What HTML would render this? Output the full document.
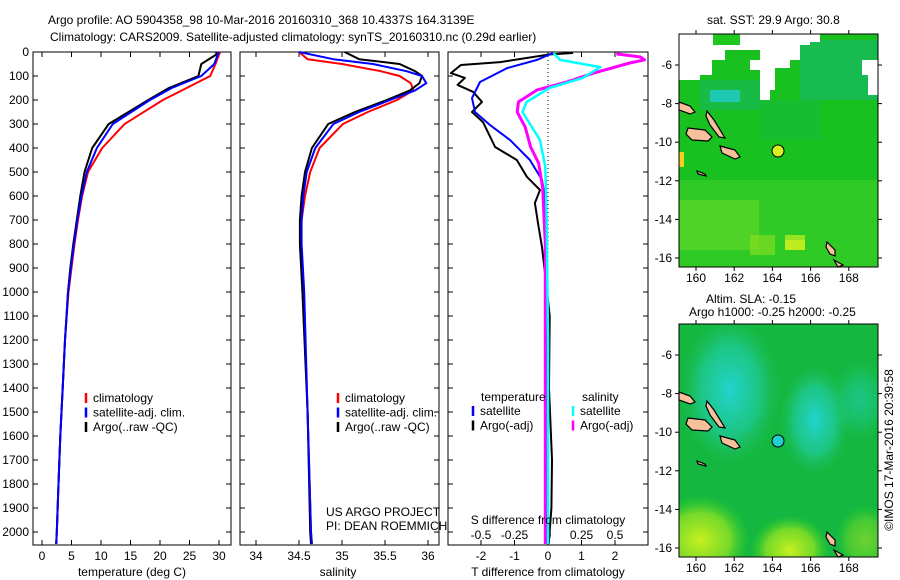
<!DOCTYPE html>
<html><head><meta charset="utf-8"><style>
body{margin:0;background:#fff;}
svg{display:block;font-family:"Liberation Sans",sans-serif;font-size:12px;}
</style></head><body>
<svg id="c" width="900" height="580" viewBox="0 0 900 580">
<defs>
<radialGradient id="cy1" cx="0.5" cy="0.5" r="0.5"><stop offset="0" stop-color="#22d4d0"/><stop offset="0.6" stop-color="#20cca0" stop-opacity="0.7"/><stop offset="1" stop-color="#20c060" stop-opacity="0"/></radialGradient>
<radialGradient id="yl1" cx="0.5" cy="0.5" r="0.5"><stop offset="0" stop-color="#c8f020"/><stop offset="0.6" stop-color="#a0e820" stop-opacity="0.7"/><stop offset="1" stop-color="#40d020" stop-opacity="0"/></radialGradient>
<clipPath id="clipTop"><rect x="679" y="34" width="199" height="233"/></clipPath>
<clipPath id="clipBot"><rect x="679" y="324" width="199" height="233"/></clipPath>
</defs>
<text x="48" y="24">Argo profile: AO 5904358_98 10-Mar-2016 20160310_368 10.4337S 164.3139E</text>
<text x="50" y="41">Climatology: CARS2009. Satellite-adjusted climatology: synTS_20160310.nc (0.29d earlier)</text>
<g id="p1"></g>
<g id="p2"></g>
<g id="p3"></g>

<!-- top map -->
<g>
<text x="707" y="24">sat. SST: 29.9 Argo: 30.8</text>
<g clip-path="url(#clipTop)">
<rect x="679" y="34" width="199" height="233" fill="#18c020"/>
<rect x="679" y="180" width="199" height="87" fill="#40d02a" opacity="0.6"/>
<rect x="679" y="200" width="80" height="50" fill="#70dc28" opacity="0.5"/>
<rect x="700" y="80" width="60" height="30" fill="#18b860" opacity="0.6"/>
<rect x="800" y="40" width="78" height="60" fill="#18b870" opacity="0.6"/>
<rect x="760" y="100" width="60" height="40" fill="#15b840" opacity="0.5"/>
<path d="M679,34 H760 V50 H725 V60 H712 V75 H700 V80 H679 Z" fill="#fff"/>
<path d="M713,34 V45 H740 V34 Z" fill="#1ec81e"/>
<path d="M760,34 H810 V45 H800 V60 H790 V68 H775 V90 H770 V100 H760 V70 H750 V60 H760 Z" fill="#fff"/>
<path d="M810,34 H820 V42 H810 Z" fill="#fff"/>
<path d="M862,60 H878 V95 H868 V75 H862 Z" fill="#fff"/>
<rect x="710" y="90" width="30" height="12" fill="#22cccc" opacity="0.8"/>
<rect x="679" y="152" width="5" height="15" fill="#f0d020"/>
<rect x="785" y="235" width="20" height="15" fill="#b0e820" opacity="0.8"/>
<rect x="750" y="235" width="25" height="20" fill="#90e020" opacity="0.6"/>
<rect x="785" y="240" width="20" height="10" fill="#d0f020" opacity="0.7"/>
</g>
<g fill="#f5c09a" stroke="#000" stroke-width="1.2">
<path d="M679,102 L690,106 L695,112 L690,114 L679,110Z"/>
<path d="M688,128 L705,130 L712,137 L708,141 L692,140 L686,134Z"/>
<path d="M707,111 L714,120 L722,133 L725,138 L719,137 L710,125 L706,116Z"/>
<path d="M720,146 L735,150 L740,157 L735,159 L722,153Z"/>
<path d="M827,242 L835,250 L835,256 L830,254 L826,247Z"/>
<path d="M834,260 L843,265 L838,267 Z"/>
<path d="M697,171 L705,174 L706,176 L698,174Z"/>
</g>
<circle cx="778" cy="151" r="6" fill="#d8f020" stroke="#000" stroke-width="1"/>
<rect x="679" y="34" width="199" height="233" fill="none" stroke="#000" stroke-width="1"/>
</g>

<!-- bottom map -->
<g>
<text x="706" y="303">Altim. SLA: -0.15</text>
<text x="689" y="316">Argo h1000: -0.25 h2000: -0.25</text>
<g clip-path="url(#clipBot)">
<rect x="679" y="324" width="199" height="233" fill="#14b840"/>
<ellipse cx="730" cy="390" rx="50" ry="75" fill="url(#cy1)"/>
<ellipse cx="815" cy="420" rx="35" ry="55" fill="url(#cy1)"/>
<ellipse cx="860" cy="400" rx="30" ry="40" fill="url(#cy1)" opacity="0.5"/>
<ellipse cx="700" cy="540" rx="50" ry="45" fill="url(#yl1)"/>
<ellipse cx="790" cy="550" rx="40" ry="35" fill="url(#yl1)"/>
<ellipse cx="865" cy="540" rx="30" ry="35" fill="url(#yl1)" opacity="0.5"/>
</g>
<g fill="#f5c09a" stroke="#000" stroke-width="1.2">
<path d="M679,392 L690,396 L695,402 L690,404 L679,400Z"/>
<path d="M688,418 L705,420 L712,427 L708,431 L692,430 L686,424Z"/>
<path d="M707,401 L714,410 L722,423 L725,428 L719,427 L710,415 L706,406Z"/>
<path d="M720,436 L735,440 L740,447 L735,449 L722,443Z"/>
<path d="M827,532 L835,540 L835,546 L830,544 L826,537Z"/>
<path d="M834,550 L843,555 L838,557 Z"/>
<path d="M697,461 L705,464 L706,466 L698,464Z"/>
</g>
<circle cx="778" cy="441" r="6" fill="#20d0d0" stroke="#000" stroke-width="1"/>
<rect x="679" y="324" width="199" height="233" fill="none" stroke="#000" stroke-width="1"/>
</g>
<text transform="translate(893,450) rotate(-90)" text-anchor="middle">©IMOS 17-Mar-2016 20:39:58</text>
<g id="maps-axes"></g>
</svg>
<script>
// ---- data ----
const depthT=[0,10,50,100,150,200,300,400,500,600,700,800,900,1000,1200,1400,1600,1800,2000,2050];
const tempClim=[30.2,30,29.4,28.5,24.5,20.5,14,10.2,7.8,6.8,6.1,5.5,5.0,4.5,3.9,3.5,3.1,2.8,2.5,2.4];
const tempSat=[30,29.8,29.2,27,22,18.3,12,9.3,7.6,6.7,6.0,5.4,4.9,4.4,3.9,3.5,3.1,2.8,2.5,2.4];
const tempArgo=[29.5,29.6,27,26.5,21.5,18,11.3,8.5,7.2,6.5,5.9,5.3,4.8,4.4,3.9,3.5,3.1,2.8,2.5,2.4];
const depthS=[0,30,50,80,100,130,160,200,250,300,400,500,600,700,800,1000,1500,2000,2050];
const salClim=[34.5,34.6,35.0,35.45,35.67,35.8,35.83,35.64,35.3,35.01,34.74,34.63,34.57,34.53,34.52,34.55,34.6,34.64,34.65];
const salSat=[34.5,34.9,35.36,35.75,35.93,35.98,35.85,35.56,35.2,34.9,34.69,34.59,34.55,34.53,34.53,34.56,34.6,34.64,34.65];
const salArgo=[35.03,35.2,35.67,35.85,35.93,35.9,35.79,35.52,35.15,34.84,34.65,34.57,34.53,34.51,34.51,34.54,34.6,34.63,34.64];
const depthTd=[4,33,67,125,192,250,304,367,450,533,604,800,1200,1600,2050];
const tDiffSat=[0.15,-0.33,-1.22,-2.03,-2.27,-2.18,-1.73,-1.13,-0.54,-0.18,-0.09,-0.05,-0.03,-0.02,-0.02];
const depthTa=[4,10,42,54,88,108,137,166,208,250,292,396,450,520,575,629,713,813,921,1100,1400,1700,1900,2050];
const tDiffArgo=[0.75,0.06,-1.43,-2.6,-2.9,-2.48,-2.7,-2.24,-1.97,-2.27,-1.94,-1.58,-0.93,-0.63,-0.24,-0.39,-0.3,-0.18,-0.09,0.05,0.03,0.12,0.1,0.02];
const depthSd=[4,33,63,108,150,208,250,304,367,479,700,1200,2050];
const sDiffSat=[0.04,0.09,0.39,0.26,0.01,-0.16,-0.19,-0.13,-0.06,-0.02,-0.01,0,0];
const depthSa=[8,21,33,46,88,125,158,208,250,313,396,463,563,800,1200,2050];
const sDiffArgo=[0.51,0.69,0.72,0.61,0.34,0.14,-0.08,-0.22,-0.23,-0.17,-0.13,-0.07,-0.04,-0.02,-0.02,-0.02];
const depthTicks=[0,100,200,300,400,500,600,700,800,900,1000,1100,1200,1300,1400,1500,1600,1700,1800,1900,2000];
const tTicks=[0,5,10,15,20,25,30];
const sTicks=[34,34.5,35,35.5,36];
const tdTicks=[-2,-1,0,1,2];
const sdTicks=[-0.5,-0.25,0,0.25,0.5];
const lonTicks=[160,162,164,166,168];
const latTicks=[-6,-8,-10,-12,-14,-16];

const NS='http://www.w3.org/2000/svg';
const TOP=52,BOT=545;
const yD=d=>TOP+d*0.24;
function mk(parent,tag,attrs){const e=document.createElementNS(NS,tag);for(const k in attrs)e.setAttribute(k,attrs[k]);parent.appendChild(e);return e;}
function txt(parent,x,y,s,anchor){const e=mk(parent,'text',{x:x,y:y,'text-anchor':anchor||'start'});e.textContent=s;return e;}
function line(parent,xs,ds,xf,color,w,name){
  const pts=xs.map((v,i)=>xf(v).toFixed(1)+','+yD(ds[i]).toFixed(1)).join(' ');
  const p=mk(parent,'polyline',{points:pts,fill:'none',stroke:color,'stroke-width':w,'stroke-linejoin':'round'});
  
  
}
function frame(g,x0,x1,leftLabels){
  mk(g,'rect',{x:x0,y:TOP,width:x1-x0,height:BOT-TOP,fill:'none',stroke:'#000','stroke-width':1});
  depthTicks.forEach(d=>{mk(g,'line',{x1:x0,x2:x0+5,y1:yD(d),y2:yD(d),stroke:'#000'});mk(g,'line',{x1:x1,x2:x1-5,y1:yD(d),y2:yD(d),stroke:'#000'});
    if(leftLabels){const t=txt(g,x0-4,yD(d)+4,String(d),'end');}});
}
function xticks(g,ticks,xf,y,labelY,fmt){
  ticks.forEach(v=>{const x=xf(v);mk(g,'line',{x1:x,x2:x,y1:BOT,y2:BOT-5,stroke:'#000'});mk(g,'line',{x1:x,x2:x,y1:TOP,y2:TOP+5,stroke:'#000'});
    const t=txt(g,x,labelY,fmt?fmt(v):String(v),'middle');});
}
function legend(g,x,y,items){
  items.forEach((it,i)=>{const yy=y+i*14.5;mk(g,'line',{x1:x,x2:x,y1:yy-9,y2:yy+1,stroke:it[1],'stroke-width':2.5});
    const t=txt(g,x+7,yy,it[0]);});
}
// panel 1
const p1=document.getElementById('p1');
const xT=v=>42+v*5.9;
frame(p1,33,231,true);
xticks(p1,tTicks,xT,0,560);
line(p1,tempClim,depthT,xT,'#f00',2,'temperature-climatology-line');
line(p1,tempArgo,depthT,xT,'#000',2,'temperature-argo-line');
line(p1,tempSat,depthT,xT,'#00f',2,'temperature-satellite-line');
legend(p1,86,402,[['climatology','#f00'],['satellite-adj. clim.','#00f'],['Argo(..raw -QC)','#000']]);
const a1=txt(p1,132,576,'temperature (deg C)','middle');
// panel 2
const p2=document.getElementById('p2');
const xS=v=>256+(v-34)*86;
frame(p2,240,439,false);
xticks(p2,sTicks,xS,0,560);
line(p2,salClim,depthS,xS,'#f00',2,'salinity-climatology-line');
line(p2,salArgo,depthS,xS,'#000',2,'salinity-argo-line');
line(p2,salSat,depthS,xS,'#00f',2,'salinity-satellite-line');
legend(p2,338,402,[['climatology','#f00'],['satellite-adj. clim.','#00f'],['Argo(..raw -QC)','#000']]);
const a2=txt(p2,338,576,'salinity','middle');
const u1=txt(p2,326,516,'US ARGO PROJECT');
const u2=txt(p2,326,530,'PI: DEAN ROEMMICH');
// panel 3
const p3=document.getElementById('p3');
const xTd=v=>548+v*33.5, xSd=v=>548+v*134;
frame(p3,448,648,false);
xticks(p3,tdTicks,xTd,0,560);
sdTicks.forEach(v=>{const t=txt(p3,xSd(v),539,(v<0?'-':'')+Math.abs(v),'middle');});
mk(p3,'line',{x1:548,x2:548,y1:TOP,y2:BOT,stroke:'#000','stroke-dasharray':'1,3'});
line(p3,tDiffArgo,depthTa,xTd,'#000',2,'t-diff-argo-line');
line(p3,tDiffSat,depthTd,xTd,'#00f',2,'t-diff-satellite-line');
line(p3,sDiffArgo,depthSa,xSd,'#f0f',3,'s-diff-argo-line');
line(p3,sDiffSat,depthSd,xSd,'#0ff',2.5,'s-diff-satellite-line');
const lt=txt(p3,481,401,'temperature');
const ls=txt(p3,582,401,'salinity');
legend(p3,473,415,[['satellite','#00f'],['Argo(-adj)','#000']]);
legend(p3,573,415,[['satellite','#0ff'],['Argo(-adj)','#f0f']]);
const sd=txt(p3,548,524,'S difference from climatology','middle');
const td=txt(p3,548,576,'T difference from climatology','middle');
// map axes
const ma=document.getElementById('maps-axes');
const xL=v=>696+(v-160)*19.1;
[[34,267,65],[324,557,355]].forEach(m=>{
  lonTicks.forEach(v=>{const x=xL(v);mk(ma,'line',{x1:x,x2:x,y1:m[0],y2:m[0]-4,stroke:'#000'});mk(ma,'line',{x1:x,x2:x,y1:m[1],y2:m[1]+4,stroke:'#000'});
    const t=txt(ma,x,m[1]+15,String(v),'middle');});
  latTicks.forEach(v=>{const y=m[2]+(-6-v)*19.3;mk(ma,'line',{x1:679,x2:675,y1:y,y2:y,stroke:'#000'});mk(ma,'line',{x1:878,x2:882,y1:y,y2:y,stroke:'#000'});
    const t=txt(ma,672,y+4,String(v),'end');});
});
</script>
</body></html>
